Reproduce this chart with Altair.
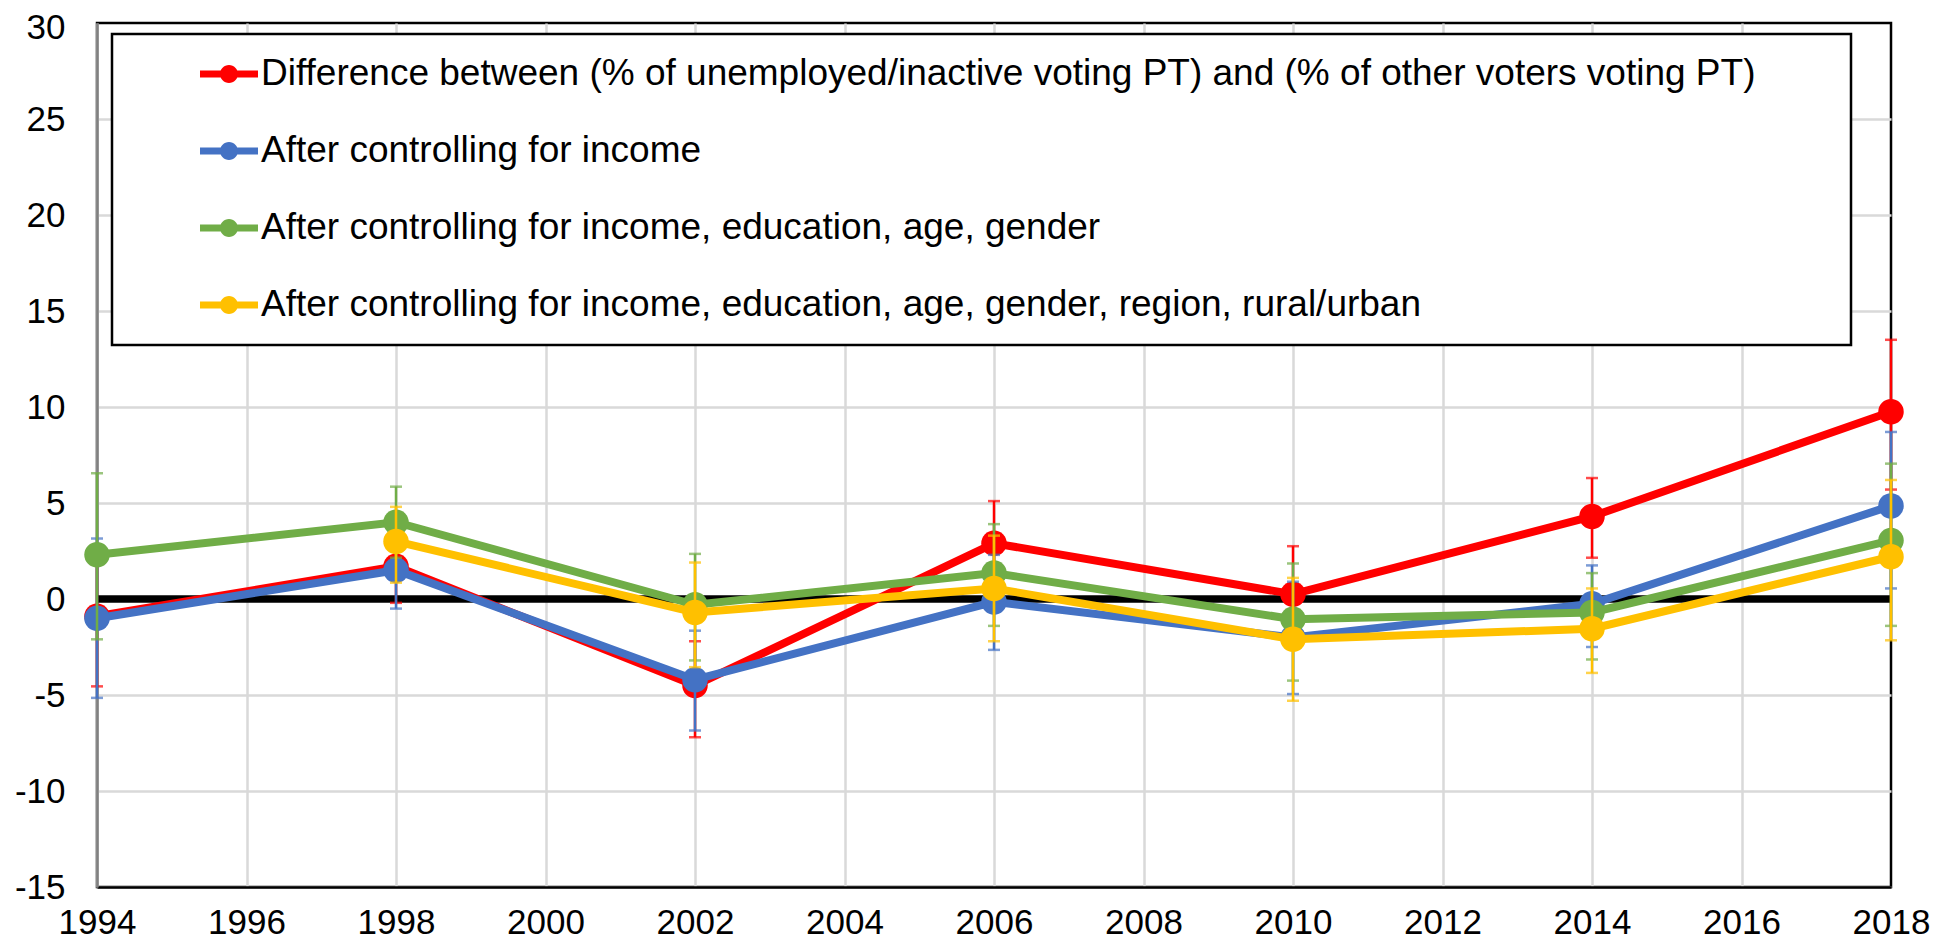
import altair as alt
import pandas as pd

years = [1994, 1998, 2002, 2006, 2010, 2014, 2018]

series_names = [
    "Difference between (% of unemployed/inactive voting PT) and (% of other voters voting PT)",
    "After controlling for income",
    "After controlling for income, education, age, gender",
    "After controlling for income, education, age, gender, region, rural/urban",
]
series_colors = ["#FF0000", "#4472C4", "#70AD47", "#FFC000"]

# point estimates
red = [-0.9, 1.7, -4.5, 2.9, 0.25, 4.3, 9.75]
blue = [-1.0, 1.5, -4.2, -0.15, -2.0, -0.25, 4.85]
green = [2.3, 4.0, -0.3, 1.35, -1.05, -0.7, 3.05]
yellow = [None, 3.0, -0.7, 0.55, -2.1, -1.55, 2.2]

# error bar lower ends
red_lo = [-4.55, -0.2, -7.2, 0.7, -2.25, 2.15, 5.7]
blue_lo = [-5.15, -0.5, -6.85, -2.65, -4.95, -2.5, 0.55]
green_lo = [-2.1, 2.15, -3.2, -1.4, -4.25, -3.15, -1.4]
yellow_lo = [None, 0.85, -3.55, -2.2, -5.3, -3.85, -2.15]

# error bar upper ends
red_hi = [2.8, 3.6, -2.2, 5.1, 2.75, 6.3, 13.5]
blue_hi = [3.15, 3.5, -1.65, 2.3, 0.9, 1.75, 8.7]
green_hi = [6.55, 5.85, 2.35, 3.9, 1.85, 1.35, 7.05]
yellow_hi = [None, 4.8, 1.9, 3.3, 1.1, 0.55, 6.2]

x_ticks = list(range(1994, 2019, 2))
y_ticks = list(range(-15, 31, 5))

values = [red, blue, green, yellow]
lows = [red_lo, blue_lo, green_lo, yellow_lo]
highs = [red_hi, blue_hi, green_hi, yellow_hi]

rows = []
for si, name in enumerate(series_names):
    for yi, yr in enumerate(years):
        v = values[si][yi]
        if v is None:
            continue
        rows.append({"series": name, "sidx": si, "year": yr, "value": v,
                     "lo": lows[si][yi], "hi": highs[si][yi]})
df = pd.DataFrame(rows)

FONT = "Liberation Sans"

legend_path = ("M-1,-0.12H-0.25V0.12H-1Z "
               "M0.25,-0.12H1V0.12H0.25Z "
               "M-0.31,0A0.31,0.31 0 1,1 0.31,0A0.31,0.31 0 1,1 -0.31,0Z")

color_enc = alt.Color(
    "series:N",
    scale=alt.Scale(domain=series_names, range=series_colors),
    legend=alt.Legend(
        orient="none", legendX=103, legendY=22, title=None,
        symbolType=legend_path, symbolSize=3364, symbolStrokeWidth=0,
        symbolOpacity=1,
        labelFont=FONT, labelFontSize=37, labelColor="black",
        labelOffset=3, rowPadding=30, padding=0, labelLimit=2000,
    ),
)

x_scale = alt.Scale(domain=[1994, 2018], nice=False, zero=False)
y_scale = alt.Scale(domain=[-15, 30], nice=False, zero=False)
x_axis = alt.Axis(
    values=x_ticks, format="d", title=None, labelFlush=False,
    gridOpacity={"condition": {"test": "datum.value == 2018", "value": 0}, "value": 1},
)
y_axis = alt.Axis(
    values=y_ticks, title=None, labelExpr="datum.value + ''", labelFlush=False,
    gridOpacity={"condition": {"test": "datum.value == 30", "value": 0}, "value": 1},
    labelOffset={"condition": {"test": "datum.value == 30", "value": 4}, "value": 0},
)


def X(field):
    return alt.X(field, type="quantitative", scale=x_scale, axis=x_axis)


def Y(field):
    return alt.Y(field, type="quantitative", scale=y_scale, axis=y_axis)


# legend frame (decoration)
box = alt.Chart(pd.DataFrame({"k": [0]})).mark_rect(
    fill="white", stroke="black", strokeWidth=2.5
).encode(x=alt.value(15), x2=alt.value(1754), y=alt.value(11), y2=alt.value(322))

zero = alt.Chart(pd.DataFrame({"k": [0]})).mark_rule(
    color="black", strokeWidth=7.5
).encode(y=alt.datum(0, scale=y_scale, axis=y_axis))

layers = [box, zero]
base = alt.Chart(df)
for name in series_names:
    sub = base.transform_filter(alt.datum.series == name)
    layers.append(sub.mark_point(filled=True, size=650, opacity=1).encode(
        x=X("year"), y=Y("value"), color=color_enc).transform_filter("false"))
    layers.append(sub.mark_rule(strokeWidth=2.5).encode(
        x=X("year"), y=Y("lo"), y2="hi", color=color_enc))
    layers.append(sub.mark_tick(orient="horizontal", size=12, thickness=2.5).encode(
        x=X("year"), y=Y("lo"), color=color_enc))
    layers.append(sub.mark_tick(orient="horizontal", size=12, thickness=2.5).encode(
        x=X("year"), y=Y("hi"), color=color_enc))
    layers.append(sub.mark_line(strokeWidth=8).encode(
        x=X("year"), y=Y("value"), color=color_enc))
    layers.append(sub.mark_point(filled=True, size=650, opacity=1).encode(
        x=X("year"), y=Y("value"), color=color_enc))

chart = alt.layer(*layers).properties(
    width=1794, height=864,
    padding={"left": 89, "top": 15, "right": 54, "bottom": 55},
    autosize=alt.AutoSizeParams(type="none"),
    background="white",
).configure_axis(
    grid=True, gridColor="#d9d9d9", gridWidth=2.5, ticks=False,
    labelFont=FONT, labelFontSize=35, labelColor="black", domainWidth=2.5,
).configure_axisX(
    domainColor="black", labelPadding=18,
).configure_axisY(
    domainColor="#808080", labelPadding=32,
).configure_view(
    stroke="black", strokeWidth=2.5,
)

chart.save("out.html", embed_options={"renderer": "svg", "actions": False})
